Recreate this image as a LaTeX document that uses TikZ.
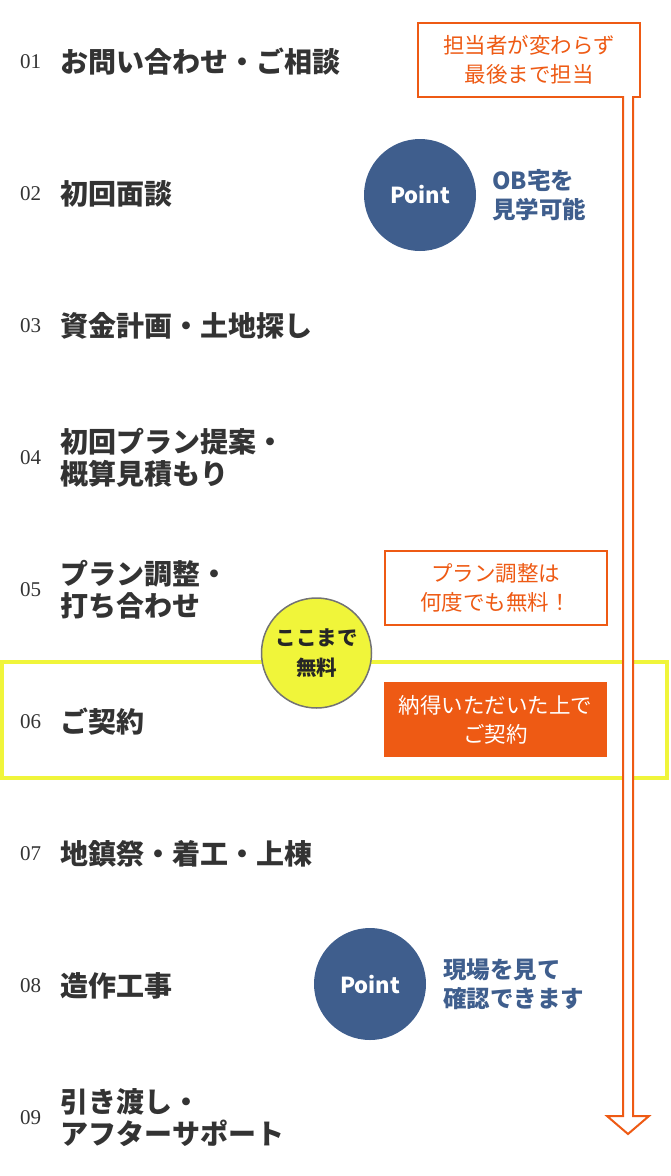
\documentclass[tikz,border=0pt]{standalone}
\usepackage{fontspec}
\newfontfamily\jp{Noto Sans CJK JP}
\newfontfamily\numfont{Liberation Serif}
\usetikzlibrary{positioning}
\definecolor{floworange}{HTML}{EE5A14}
\definecolor{pointblue}{HTML}{3F5E8D}
\definecolor{freeyellow}{HTML}{F0F53A}
\definecolor{textdark}{HTML}{333333}

\begin{document}
\begin{tikzpicture}[
  x=1pt,y=-1pt,
  num/.style={anchor=west,inner sep=0pt,text=textdark,font=\numfont\fontsize{21}{22}\selectfont},
  title/.style={align=left,inner sep=0pt,text=textdark,font=\jp\bfseries\fontsize{28}{32}\selectfont},
  point/.style={circle,fill=pointblue,minimum size=112pt,inner sep=0pt,text=white,
                font=\jp\bfseries\fontsize{22}{24}\selectfont},
  pointnote/.style={align=left,inner sep=0pt,text=pointblue,font=\jp\bfseries\fontsize{23.5}{29}\selectfont},
  note/.style={draw=floworange,line width=2pt,fill=white,text=floworange,align=center,
               minimum width=222pt,minimum height=74pt,font=\jp\fontsize{21.5}{29}\selectfont},
  deal/.style={fill=floworange,text=white,align=center,
               minimum width=223pt,minimum height=75pt,font=\jp\fontsize{21.5}{29}\selectfont},
  free/.style={circle,draw=black!55,line width=1.5pt,fill=freeyellow,minimum size=110pt,inner sep=0pt,
               align=center,text=black!85,font=\jp\bfseries\fontsize{20.5}{30}\selectfont},
  band/.style={draw=freeyellow,line width=4pt,minimum width=665pt,minimum height=116pt},
  hollow/.style={draw=floworange,line width=2pt,fill=white,line join=miter}
]
  \useasboundingbox (0,0) rectangle (670,1176);

  \node[band] (signrow) at (334.5,719.5) {};

  \node[num] (n01) at (20,62) {01};
  \node[title,right=19pt of n01] (t01) {お問い合わせ・ご相談};
  \node[num] (n02) at (20,194) {02};
  \node[title,right=19pt of n02] (t02) {初回面談};
  \node[num] (n03) at (20,326) {03};
  \node[title,right=19pt of n03] (t03) {資金計画・土地探し};
  \node[num] (n04) at (20,458) {04};
  \node[title,right=19pt of n04] (t04) {初回プラン提案・\\概算見積もり};
  \node[num] (n05) at (20,590) {05};
  \node[title,right=19pt of n05] (t05) {プラン調整・\\打ち合わせ};
  \node[num] (n06) at (20,722) {06};
  \node[title,right=19pt of n06] (t06) {ご契約};
  \node[num] (n07) at (20,854) {07};
  \node[title,right=19pt of n07] (t07) {地鎮祭・着工・上棟};
  \node[num] (n08) at (20,986) {08};
  \node[title,right=19pt of n08] (t08) {造作工事};
  \node[num] (n09) at (20,1118) {09};
  \node[title,right=19pt of n09] (t09) {引き渡し・\\アフターサポート};

  \node[point] (pt1) at (420,195) {Point};
  \node[pointnote,right=16pt of pt1] (pn1) {OB宅を\\見学可能};
  \node[point] (pt2) at (370,984) {Point};
  \node[pointnote,right=17pt of pt2] (pn2) {現場を見て\\確認できます};

  \node[note] (same) at (529,60) {担当者が変わらず\\最後まで担当};
  \node[note] (adjust) at (495.5,588) {プラン調整は\\何度でも無料！};
  \node[deal] (agree) at (495.5,719.5) {納得いただいた上で\\ご契約};
  \node[free] (freeupto) at (316.5,653) {ここまで\\無料};

  \coordinate (arrtop) at (628,96);
  \coordinate (arrtip) at (628,1134);
  \draw[hollow] (arrtop) ++(-5,0) -- ++(0,1020) -- ++(-16,0) -- (arrtip)
    -- ++(21,-18) -- ++(-16,0) -- ++(0,-1020);
\end{tikzpicture}
\end{document}
